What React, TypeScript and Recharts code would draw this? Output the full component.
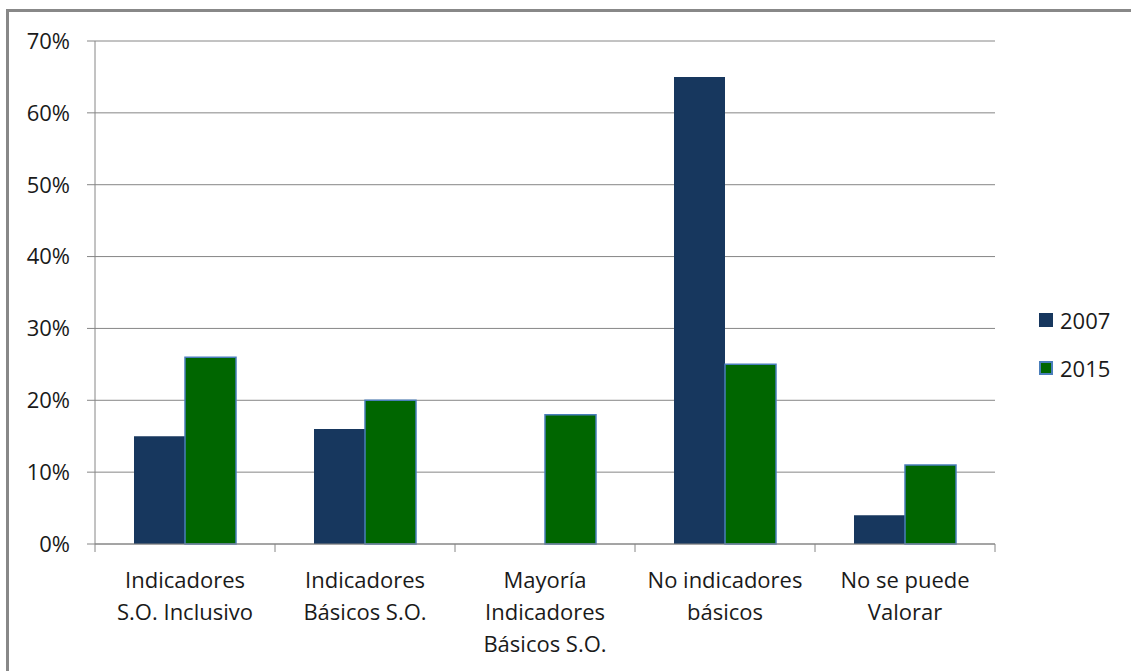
import { BarChart, Bar, XAxis, YAxis, CartesianGrid } from "recharts"

const categories = [
  "Indicadores S.O. Inclusivo",
  "Indicadores Básicos S.O.",
  "Mayoría Indicadores Básicos S.O.",
  "No indicadores básicos",
  "No se puede Valorar",
]
// label lines as they wrap in the reference
const categoryLines = [
  ["Indicadores", "S.O. Inclusivo"],
  ["Indicadores", "Básicos S.O."],
  ["Mayoría", "Indicadores", "Básicos S.O."],
  ["No indicadores", "básicos"],
  ["No se puede", "Valorar"],
]
const values2007 = [15, 16, 0, 65, 4]
const values2015 = [26, 20, 18, 25, 11]
const yTicks = [0, 10, 20, 30, 40, 50, 60, 70]
const seriesNames = ["2007", "2015"]
const seriesColors = ["#17375E", "#006600"]

const data = categories.map((name, i) => ({
  name,
  y2007: values2007[i],
  y2015: values2015[i],
}))

const FONT = "'Open Sans', Lato, sans-serif"
const GRAY = "#868686"

function CategoryTick(props: any) {
  const { x, y, payload, index } = props
  const half = payload && payload.offset ? payload.offset : 90
  const lines = categoryLines[index] || [payload.value]
  return (
    <g>
      <line x1={x - half} y1={y - 8} x2={x - half} y2={y} stroke={GRAY} />
      {index === categories.length - 1 && (
        <line x1={x + half} y1={y - 8} x2={x + half} y2={y} stroke={GRAY} />
      )}
      {lines.map((ln: string, k: number) => (
        <text
          key={k}
          x={x}
          y={y + 36 + k * 32}
          textAnchor="middle"
          fontFamily={FONT}
          fontSize={22}
          fill="#1a1a1a"
        >
          {ln}
        </text>
      ))}
    </g>
  )
}

export default function App() {
  return (
    <div
      style={{
        position: "fixed",
        left: 0,
        top: 0,
        width: 1131,
        height: 671,
        overflow: "hidden",
        background: "#fff",
      }}
    >
      <div
        style={{
          position: "absolute",
          left: 6,
          top: 9,
          width: 1140,
          height: 700,
          border: "3px solid #888888",
          boxSizing: "border-box",
        }}
      />
      <div style={{ position: "absolute", left: 0, top: 0 }}>
        <BarChart
          width={1131}
          height={671}
          data={data}
          margin={{ top: 41, right: 136, bottom: 27, left: 0 }}
          barCategoryGap={39}
          barGap={0}
        >
          <CartesianGrid vertical={false} stroke={GRAY} strokeWidth={1} />
          <XAxis
            dataKey="name"
            height={100}
            axisLine={{ stroke: GRAY }}
            tickLine={false}
            tick={<CategoryTick />}
            interval={0}
          />
          <YAxis
            width={95}
            domain={[0, 70]}
            ticks={yTicks}
            tickFormatter={(v: number) => `${v}%`}
            axisLine={{ stroke: GRAY }}
            tickLine={{ stroke: GRAY }}
            tickSize={8}
            tickMargin={17}
            tick={{ fontFamily: FONT, fontSize: 22, fill: "#1a1a1a" }}
          />
          <Bar dataKey="y2007" name="2007" fill={seriesColors[0]} isAnimationActive={false} />
          <Bar
            dataKey="y2015"
            name="2015"
            fill={seriesColors[1]}
            stroke="#4A7EBB"
            strokeWidth={1.5}
            isAnimationActive={false}
          />
        </BarChart>
      </div>
      <div
        style={{
          position: "absolute",
          left: 1039,
          top: 296,
          fontFamily: FONT,
          fontSize: 22,
          color: "#1a1a1a",
        }}
      >
        {seriesNames.map((nm, i) => (
          <div key={nm} style={{ display: "flex", alignItems: "center", height: 48 }}>
            <span
              style={{
                display: "inline-block",
                width: 14,
                height: 14,
                boxSizing: "border-box",
                background: seriesColors[i],
                border: i === 1 ? "2px solid #4A7EBB" : "none",
                marginRight: 7,
              }}
            />
            <span>{nm}</span>
          </div>
        ))}
      </div>
    </div>
  )
}
